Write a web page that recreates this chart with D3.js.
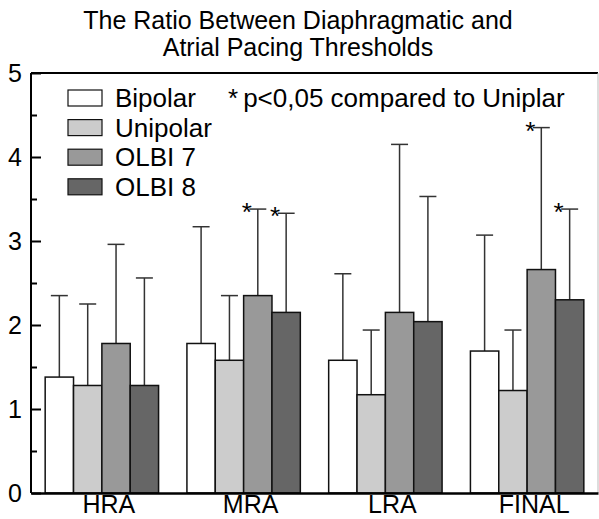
<!DOCTYPE html>
<html>
<head>
<meta charset="utf-8">
<script src="https://cdn.jsdelivr.net/npm/d3@7"></script>
<style>
  body { margin: 0; background: #fff; }
  text { font-family: "Liberation Sans", Arial, sans-serif; fill: #000; }
</style>
</head>
<body>
<div id="chart"></div>
<script>
// data
var sites = ["HRA", "MRA", "LRA", "FINAL"];
var leads = ["Bipolar", "Unipolar", "OLBI 7", "OLBI 8"];
var leadColors = ["#ffffff", "#cccccc", "#999999", "#666666"];
// mean ratio per site, one array per lead
var bipolar = [1.38, 1.78, 1.58, 1.69];
var unipolar = [1.28, 1.58, 1.17, 1.22];
var olbi7 = [1.78, 2.35, 2.15, 2.66];
var olbi8 = [1.28, 2.15, 2.04, 2.30];
// top of error bar (mean + SD)
var bipolarTop = [2.35, 3.17, 2.61, 3.07];
var unipolarTop = [2.25, 2.35, 1.94, 1.94];
var olbi7Top = [2.96, 3.38, 4.15, 4.35];
var olbi8Top = [2.56, 3.33, 3.53, 3.38];
// significance marks (p<0.05 vs unipolar)
var olbi7Star = [false, true, false, true];
var olbi8Star = [false, true, false, true];
var yTicks = [0, 1, 2, 3, 4, 5];

var svgWidth = 599;
var svgHeight = 519;
var margin = { top: 73, right: 1, bottom: 26, left: 31 };
var width = svgWidth - margin.left - margin.right;
var height = svgHeight - margin.top - margin.bottom;

var svg = d3.select("#chart")
  .append("svg")
  .attr("width", svgWidth)
  .attr("height", svgHeight);

var means = [bipolar, unipolar, olbi7, olbi8];
var tops = [bipolarTop, unipolarTop, olbi7Top, olbi8Top];
var stars = [[false, false, false, false], [false, false, false, false], olbi7Star, olbi8Star];

var rows = [];
sites.forEach(function (s, i) {
  leads.forEach(function (l, j) {
    rows.push({ site: s, lead: l, color: leadColors[j], mean: means[j][i], top: tops[j][i], star: stars[j][i] });
  });
});

var x0 = d3.scaleBand().domain(sites).range([0, width]).paddingInner(0.2).paddingOuter(0.1);
var x1 = d3.scaleBand().domain(leads).range([0, x0.bandwidth()]);
var y = d3.scaleLinear().domain([0, 5]).range([height, 0]);

var g = svg.append("g").attr("transform", `translate(${margin.left}, ${margin.top})`);

// title
svg.append("text")
  .attr("x", 298).attr("y", 29)
  .attr("text-anchor", "middle")
  .attr("font-size", 25)
  .text("The Ratio Between Diaphragmatic and");
svg.append("text")
  .attr("x", 298).attr("y", 56)
  .attr("text-anchor", "middle")
  .attr("font-size", 25)
  .text("Atrial Pacing Thresholds");

// frame top and right
g.append("line").attr("x1", 0).attr("x2", width).attr("y1", 0).attr("y2", 0)
  .attr("stroke", "#000").attr("stroke-width", 2);
g.append("line").attr("x1", width).attr("x2", width).attr("y1", 0).attr("y2", height)
  .attr("stroke", "#bbb").attr("stroke-width", 1);

// error bars (drawn under the bars)
var cap = 8.5;
var eb = g.selectAll(".eb").data(rows).enter().append("g").attr("class", "eb");
eb.append("line")
  .attr("x1", d => x0(d.site) + x1(d.lead) + x1.bandwidth() / 2)
  .attr("x2", d => x0(d.site) + x1(d.lead) + x1.bandwidth() / 2)
  .attr("y1", d => y(d.mean))
  .attr("y2", d => y(d.top))
  .attr("stroke", "#333").attr("stroke-width", 1.5);
eb.append("line")
  .attr("x1", d => x0(d.site) + x1(d.lead) + x1.bandwidth() / 2 - cap)
  .attr("x2", d => x0(d.site) + x1(d.lead) + x1.bandwidth() / 2 + cap)
  .attr("y1", d => y(d.top))
  .attr("y2", d => y(d.top))
  .attr("stroke", "#333").attr("stroke-width", 1.5);

// bars
g.selectAll("rect.bar").data(rows).enter().append("rect")
  .attr("class", "bar")
  .attr("x", d => x0(d.site) + x1(d.lead))
  .attr("y", d => y(d.mean))
  .attr("width", x1.bandwidth())
  .attr("height", d => y(0) - y(d.mean))
  .attr("fill", d => d.color)
  .attr("stroke", "#111")
  .attr("stroke-width", 1.5);

// significance stars
g.selectAll("text.star").data(rows.filter(d => d.star)).enter().append("text")
  .attr("class", "star")
  .attr("x", d => x0(d.site) + x1(d.lead) + x1.bandwidth() / 2 - 11)
  .attr("y", d => y(d.top) + 12)
  .attr("text-anchor", "middle")
  .attr("font-size", 26)
  .text("*");

// y axis
var yAxis = d3.axisRight(y).tickValues(yTicks).tickSize(10).tickFormat("");
g.append("g").call(yAxis).call(a => a.select(".domain").remove())
  .selectAll("line").attr("stroke", "#000").attr("stroke-width", 2);
var yMinor = d3.axisRight(y).tickValues([0.5, 1.5, 2.5, 3.5, 4.5]).tickSize(6).tickFormat("");
g.append("g").call(yMinor).call(a => a.select(".domain").remove())
  .selectAll("line").attr("stroke", "#000").attr("stroke-width", 2);
g.append("line").attr("x1", 0).attr("x2", 0).attr("y1", 0).attr("y2", height)
  .attr("stroke", "#000").attr("stroke-width", 2);
g.selectAll("text.ylab").data(yTicks).enter().append("text")
  .attr("class", "ylab")
  .attr("x", -9)
  .attr("y", d => y(d) + 9)
  .attr("text-anchor", "end")
  .attr("font-size", 25)
  .text(d => d);

// x axis
var xAxis = d3.axisBottom(x0).tickSize(0).tickPadding(2);
var xg = g.append("g").attr("transform", `translate(0, ${height})`).call(xAxis);
xg.select(".domain").attr("stroke", "#000").attr("stroke-width", 2.5);
xg.selectAll("text")
  .attr("font-size", 25)
  .attr("font-family", "Liberation Sans, Arial, sans-serif")
  .attr("dx", 7)
  .attr("dy", "0.7em");

// legend
var legend = g.append("g").attr("transform", "translate(37, 17)");
var li = legend.selectAll("g").data(leads).enter().append("g")
  .attr("transform", (d, i) => `translate(0, ${i * 29.6})`);
li.append("rect")
  .attr("width", 34).attr("height", 16)
  .attr("fill", (d, i) => leadColors[i])
  .attr("stroke", "#111").attr("stroke-width", 1.2);
li.append("text")
  .attr("x", 47).attr("y", 17)
  .attr("font-size", 26)
  .text(d => d);
var note = g.append("text")
  .attr("x", 197).attr("y", 34)
  .attr("font-size", 26);
note.append("tspan").text("*");
note.append("tspan").attr("dx", 5).text("p<0,05 compared to Uniplar");
</script>
</body>
</html>
